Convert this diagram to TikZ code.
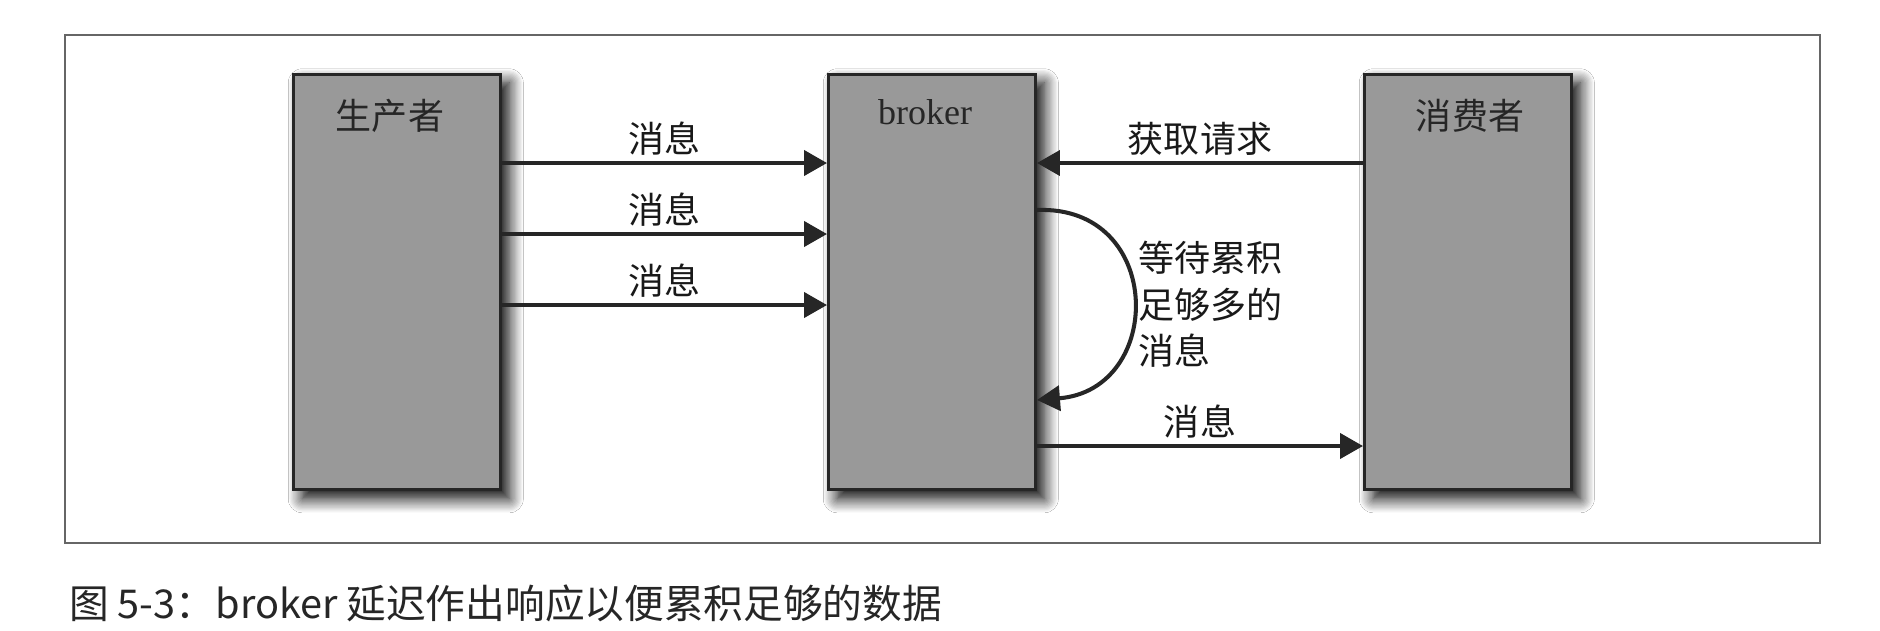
\documentclass[tikz,border=0pt]{standalone}
\usepackage{fontspec}
\setmainfont{Liberation Serif}
\newfontfamily\cjk{Noto Sans CJK SC}
\usetikzlibrary{calc}
\usetikzlibrary{arrows.meta}
\usetikzlibrary{shadows.blur}
\tikzset{
	bloc/.style = {rectangle, draw=black!85, fill=black!40, line width=1.7pt,
		minimum width=4.14cm, minimum height=8.32cm,
		blur shadow={shadow xshift=5pt, shadow yshift=-5pt,
			shadow blur radius=8pt, shadow blur steps=12,
			shadow opacity=100}},% grand bloc gris
	titre/.style = {inner sep=0pt, text=black!85,
		font=\fontsize{20.5}{26}\selectfont},% titre du bloc
	msg/.style = {above, inner sep=3pt, text=black!90,
		font=\cjk\fontsize{20.5}{26}\selectfont},% texte sur la fleche
	attente/.style = {align=left, inner sep=0pt, text=black!90,
		font=\cjk\fontsize{20.5}{26.5}\selectfont},% texte de la boucle
	fleche/.style = {->, draw=black!85, line width=2.3pt},
	cadre/.style = {draw=black!60, line width=1pt},
	legende/.style = {inner sep=0pt, text=black!85,
		font=\cjk\fontsize{22.6}{26}\selectfont}
}
\begin{document}
\begin{tikzpicture}[x=0.02cm, y=-0.02cm,
		>={Triangle[length=0.46cm,width=0.5cm]}]
	\fill[white] (0,0) rectangle (1880,630);
	\useasboundingbox (0,0) rectangle (1880,630);
	\draw[cadre] (65,35) rectangle (1820,543);
	\node[bloc] (prod) at (397,282) {};
	\node[bloc] (brok) at (932,282) {};
	\node[bloc] (cons) at (1468,282) {};
	\node[titre] (t_prod) at ($(prod.north)+(-7,43)$) {\cjk 生产者};
	\node[titre] (t_brok) at ($(brok.north)+(-7,40)$) {broker};
	\node[titre] (t_cons) at ($(cons.north)+(2,43)$) {\cjk 消费者};
	\foreach \y in {163,234,305}
		\draw[fleche] (prod.east |- 0,\y) -- node[msg] {消息} (brok.west |- 0,\y);
	\draw[fleche] (cons.west |- 0,163) -- node[msg] {获取请求} (brok.east |- 0,163);
	\draw[fleche] (brok.east |- 0,210) .. controls (1165,205) and (1165,390) .. (brok.east |- 0,400);
	\node[attente, anchor=north west] (attente) at (1138,241) {等待累积\\足够多的\\消息};
	\draw[fleche] (brok.east |- 0,446) -- node[msg] {消息} (cons.west |- 0,446);
	\node[legende, anchor=west] (legende) at (69,603)
		{图 5-3：broker 延迟作出响应以便累积足够的数据};
\end{tikzpicture}
\end{document}
